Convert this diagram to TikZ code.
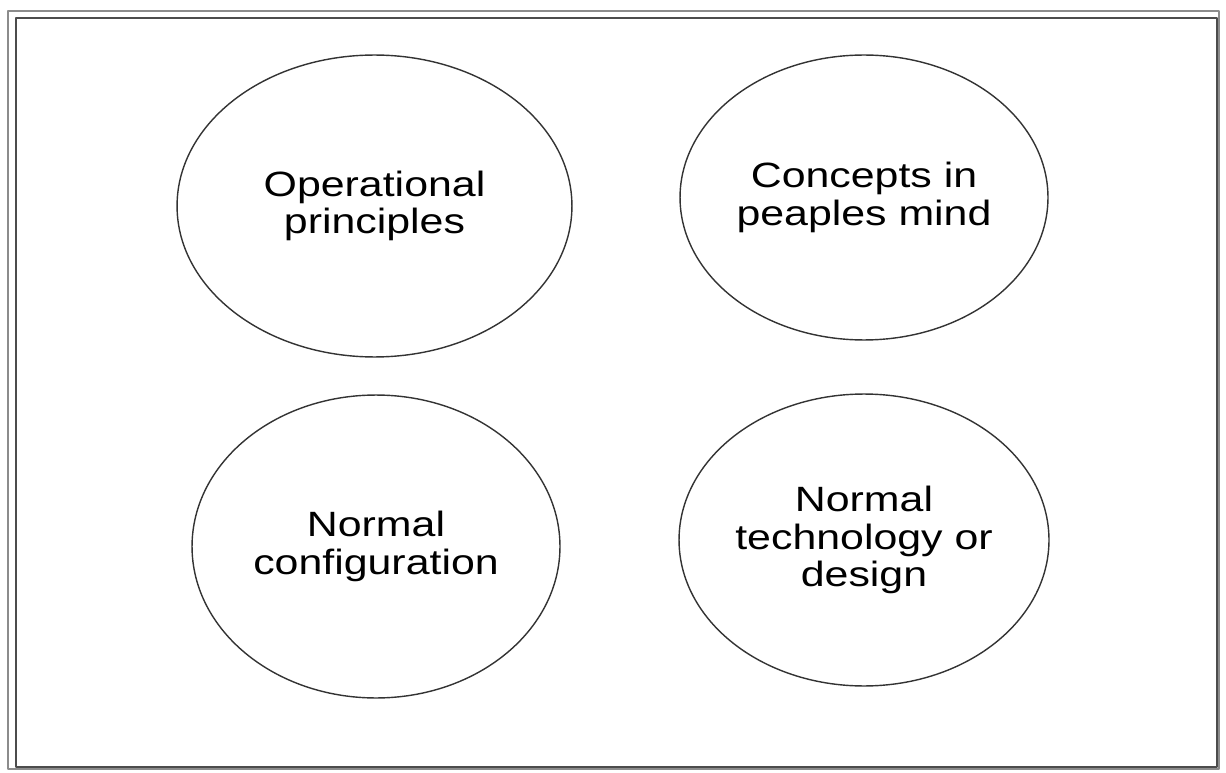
\documentclass[tikz,border=0pt]{standalone}
\usepackage{fontspec}
\setmainfont{Liberation Sans}
\usetikzlibrary{shapes.geometric}
\begin{document}
\begin{tikzpicture}[x=0.02cm, y=-0.02cm, line join=round, line cap=round,
	bubble/.style={ellipse, draw=black!80, line width=0.8pt, inner sep=0pt, align=center,
		font=\fontsize{20}{21.5}\selectfont, xscale=1.22, transform shape}]
	\useasboundingbox (0,0) rectangle (1226,773);
	% frame
	\draw[black!45, line width=0.8pt] (8,11) rectangle (1219,769);
	\draw[black!70, line width=0.8pt] (16,18) rectangle (1217,767);
	% the four ideas
	\node[bubble, minimum width=6.475cm, minimum height=6.04cm] (oper) at (374.5,206) {Operational\\principles};
	\node[bubble, minimum width=6.033cm, minimum height=5.70cm] (conc) at (864,197.5) {Concepts in\\peaples mind};
	\node[bubble, minimum width=6.033cm, minimum height=6.06cm] (conf) at (376,546.5) {Normal\\configuration};
	\node[bubble, minimum width=6.066cm, minimum height=5.84cm] (tech) at (864,540) {Normal\\technology or\\design};
\end{tikzpicture}
\end{document}
